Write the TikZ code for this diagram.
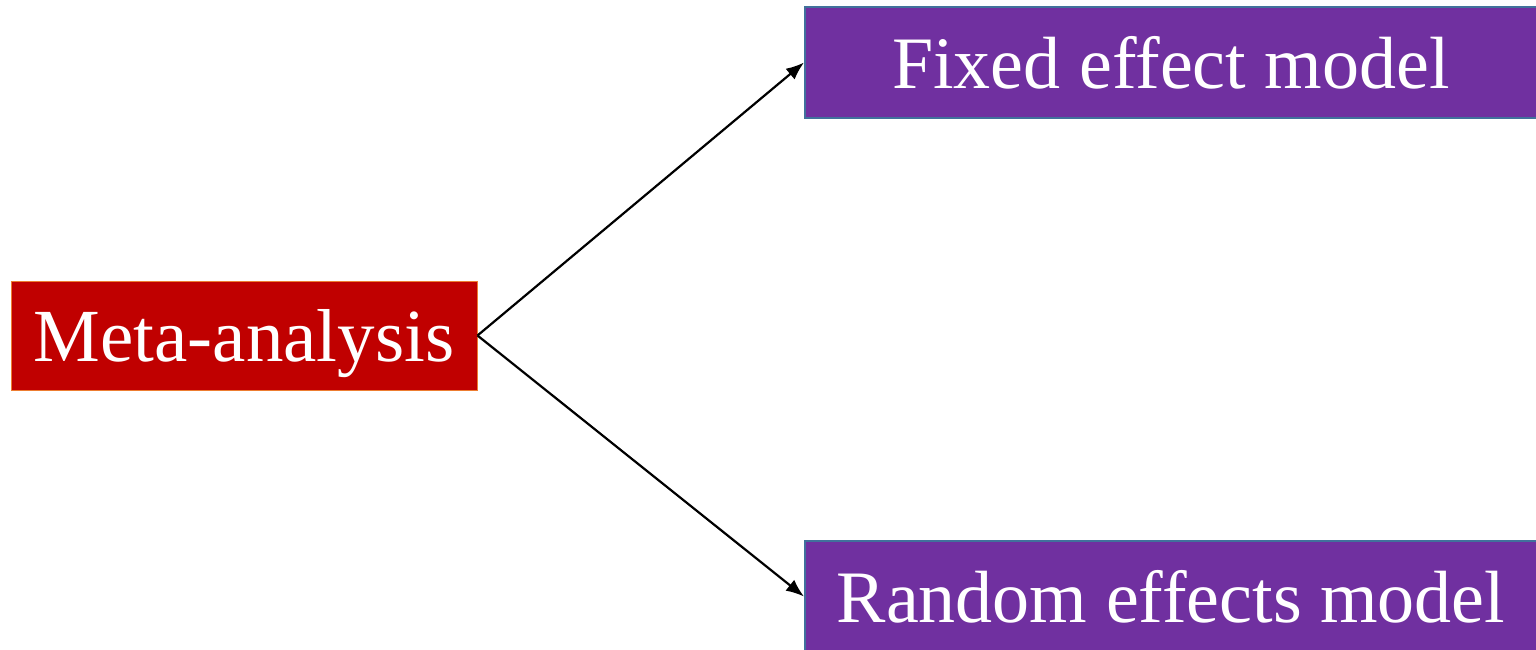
\documentclass[tikz,border=0pt]{standalone}
\usepackage{fontspec}
\setmainfont{Liberation Serif}
\usepackage{xcolor}
\usetikzlibrary{arrows.meta}
\definecolor{rouge}{HTML}{C00000}
\definecolor{orange bord}{HTML}{ED7D31}
\definecolor{violet}{HTML}{7030A0}
\definecolor{bleu bord}{HTML}{41719C}

\begin{document}
\begin{tikzpicture}[x=1pt,y=-1pt,-{Latex[length=18pt,width=14pt]},line width=2.2pt,
   methode/.style={draw=orange bord,fill=rouge,line width=1pt,text=white,inner sep=0pt,
     minimum width=466pt,minimum height=109pt,text depth=0pt,font=\fontsize{75}{80}\selectfont},
   modele/.style={draw=bleu bord,fill=violet,line width=2pt,text=white,inner sep=0pt,
     minimum width=732pt,minimum height=111pt,font=\fontsize{74}{80}\selectfont}]

  \useasboundingbox (0,0) rectangle (1536,649);

  \node[methode](meta) at (244,335.5) {Meta-analysis};
  \node[modele](fixe) at (1171,62.5) {Fixed effect model};
  \node[modele](aleatoire) at (1171,596.5) {Random effects model};

  \foreach \to in {fixe,aleatoire} \draw (meta.east) -- (\to.west);
\end{tikzpicture}
\end{document}
